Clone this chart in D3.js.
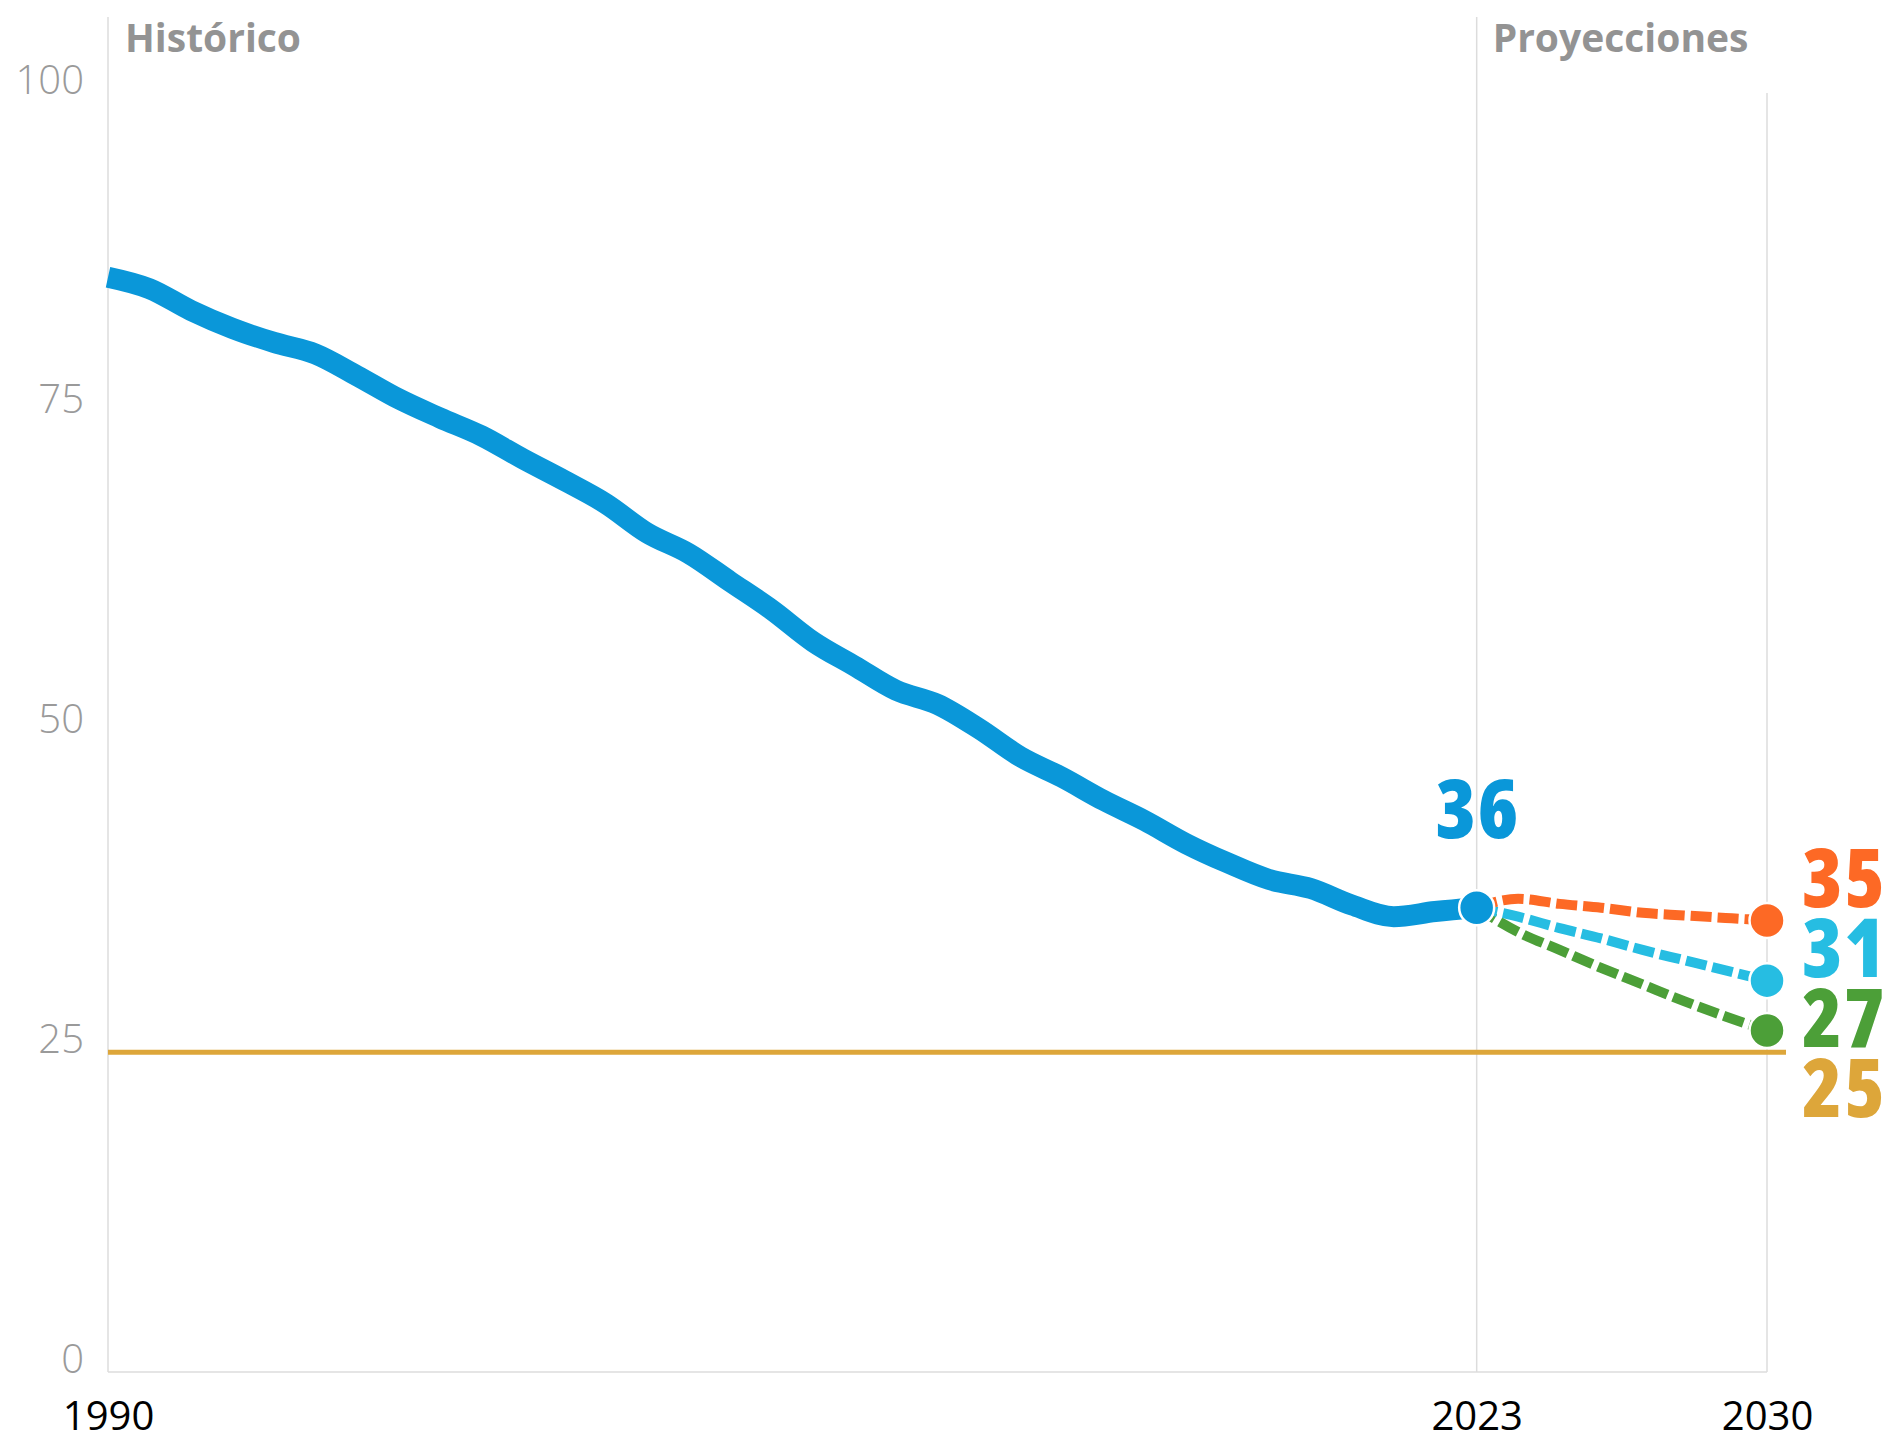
<!DOCTYPE html>
<html>
<head>
<meta charset="utf-8">
<script src="https://cdn.jsdelivr.net/npm/d3@7"></script>
<style>
  html, body { margin: 0; padding: 0; background: #fff; }
  svg { display: block; font-family: "Open Sans", "Noto Sans", sans-serif; }
  .value-label { font-stretch: 87.5%; letter-spacing: 1.5px; }
</style>
</head>
<body>
<svg id="chart" width="1895" height="1435"></svg>
<script>
// Historical series, 1990–2023
const histYears = [1990, 1991, 1992, 1993, 1994, 1995, 1996, 1997, 1998, 1999,
                   2000, 2001, 2002, 2003, 2004, 2005, 2006, 2007, 2008, 2009,
                   2010, 2011, 2012, 2013, 2014, 2015, 2016, 2017, 2018, 2019,
                   2020, 2021, 2022, 2023];
const histValues = [85.6, 84.7, 83.0, 81.6, 80.5, 79.6, 77.9, 76.1, 74.6, 73.2,
                    71.4, 69.7, 67.9, 65.6, 64.0, 61.8, 59.6, 57.1, 55.2, 53.3,
                    52.2, 50.3, 48.1, 46.5, 44.7, 43.1, 41.3, 39.8, 38.5, 37.8,
                    36.5, 35.6, 36.0, 36.3];

// Projection scenarios, 2023–2030
const projYears = [2023, 2024, 2025, 2026, 2027, 2028, 2029, 2030];
const projHigh = [36.3, 37.0, 36.6, 36.3, 35.9, 35.7, 35.5, 35.3];
const projMid  = [36.3, 35.6, 34.7, 33.9, 33.0, 32.2, 31.4, 30.6];
const projLow  = [36.3, 34.4, 33.0, 31.6, 30.3, 29.0, 27.8, 26.7];
const targetValue = 25;

// Axis ticks and section titles
const yTicks = [0, 25, 50, 75, 100];
const xTicks = [1990, 2023, 2030];
const sectionTitles = ["Histórico", "Proyecciones"];

const colors = {
  hist: "#0A97D9",
  high: "#FD6925",
  mid: "#26BDE2",
  low: "#4C9F38",
  target: "#DDA63A",
  grid: "#dcdcdc",
  tick: "#9a9a9a",
  title: "#939393"
};

const svg = d3.select("#chart");

const x = d3.scaleLinear().domain([1990, 2030]).range([108, 1767]);
const y = d3.scaleLinear().domain([0, 100]).range([1372, 93]);

// Frame: left axis, baseline and dividers at 2023 / 2030
const frame = svg.append("g").attr("stroke", colors.grid).attr("stroke-width", 1.5);
frame.append("line").attr("x1", x(1990)).attr("x2", x(1990)).attr("y1", 17).attr("y2", y(0));
frame.append("line").attr("x1", x(2023)).attr("x2", x(2023)).attr("y1", 17).attr("y2", y(0));
frame.append("line").attr("x1", x(2030)).attr("x2", x(2030)).attr("y1", y(100)).attr("y2", y(0));
frame.append("line").attr("x1", x(1990)).attr("x2", x(2030)).attr("y1", y(0)).attr("y2", y(0));

// Y axis labels
const yAxis = d3.axisLeft(y).tickValues(yTicks).tickSize(0).tickPadding(0);
const gy = svg.append("g").attr("transform", "translate(84,0)").call(yAxis);
gy.select(".domain").remove();
gy.selectAll("text")
  .attr("dy", 0)
  .attr("font-family", "'Open Sans', sans-serif")
  .attr("font-size", 40)
  .attr("font-weight", 300)
  .attr("fill", colors.tick);

// X axis labels
const xAxis = d3.axisBottom(x).tickValues(xTicks).tickFormat(d3.format("d")).tickSize(0).tickPadding(0);
const gx = svg.append("g").attr("transform", "translate(0,1430)").call(xAxis);
gx.select(".domain").remove();
gx.selectAll("text")
  .attr("y", 0)
  .attr("dy", 0)
  .attr("font-family", "'Open Sans', sans-serif")
  .attr("font-size", 40)
  .attr("font-weight", 400)
  .attr("fill", "#000");

// Section titles
svg.append("text").attr("x", x(1990) + 17).attr("y", 52)
  .attr("font-size", 39).attr("font-weight", 700).attr("fill", colors.title)
  .text(sectionTitles[0]);
svg.append("text").attr("x", x(2023) + 16).attr("y", 52)
  .attr("font-size", 39).attr("font-weight", 700).attr("fill", colors.title)
  .text(sectionTitles[1]);

// Target line
svg.append("line")
  .attr("x1", x(1990)).attr("x2", x(2030) + 19)
  .attr("y1", y(targetValue)).attr("y2", y(targetValue))
  .attr("stroke", colors.target).attr("stroke-width", 5);

// Projection scenarios (dashed)
const projLine = d3.line()
  .x((d, i) => x(projYears[i]))
  .y(d => y(d))
  .curve(d3.curveMonotoneX);

const scenarios = [
  { values: projLow, color: colors.low },
  { values: projMid, color: colors.mid },
  { values: projHigh, color: colors.high }
];

scenarios.forEach(s => {
  svg.append("path")
    .attr("d", projLine(s.values))
    .attr("fill", "none")
    .attr("stroke", s.color)
    .attr("stroke-width", 10)
    .attr("stroke-dasharray", "21,6");
});

// Historical line
const histLine = d3.line()
  .x((d, i) => x(histYears[i]))
  .y(d => y(d))
  .curve(d3.curveMonotoneX);

svg.append("path")
  .attr("d", histLine(histValues))
  .attr("fill", "none")
  .attr("stroke", colors.hist)
  .attr("stroke-width", 21)
  .attr("stroke-linejoin", "round");

// End points
scenarios.forEach(s => {
  const last = s.values.length - 1;
  svg.append("circle")
    .attr("cx", x(projYears[last])).attr("cy", y(s.values[last]))
    .attr("r", 17.5).attr("fill", s.color)
    .attr("stroke", "#fff").attr("stroke-width", 2.5);
});

const lastHist = histValues.length - 1;
svg.append("circle")
  .attr("cx", x(histYears[lastHist])).attr("cy", y(histValues[lastHist]))
  .attr("r", 17.5).attr("fill", colors.hist)
  .attr("stroke", "#fff").attr("stroke-width", 2.5);

// Value labels
const fmt = d3.format(".0f");
svg.append("text")
  .attr("class", "value-label")
  .attr("x", x(histYears[lastHist]) + 1)
  .attr("y", y(histValues[lastHist]) - 70)
  .attr("text-anchor", "middle")
  .attr("font-size", 82).attr("font-weight", 800)
  .attr("fill", colors.hist)
  .text(fmt(histValues[lastHist]));

const endLabels = [
  { value: projHigh[projHigh.length - 1], color: colors.high },
  { value: projMid[projMid.length - 1], color: colors.mid },
  { value: projLow[projLow.length - 1], color: colors.low },
  { value: targetValue, color: colors.target }
];

// stack labels downward so they never overlap
let prev = -Infinity;
endLabels.forEach(l => {
  let base = Math.max(y(l.value) - 14, prev + 70);
  prev = base;
  svg.append("text")
    .attr("class", "value-label")
    .attr("x", x(2030) + 35)
    .attr("y", base)
    .attr("font-size", 82).attr("font-weight", 800)
    .attr("fill", l.color)
    .text(fmt(l.value));
});
</script>
</body>
</html>
